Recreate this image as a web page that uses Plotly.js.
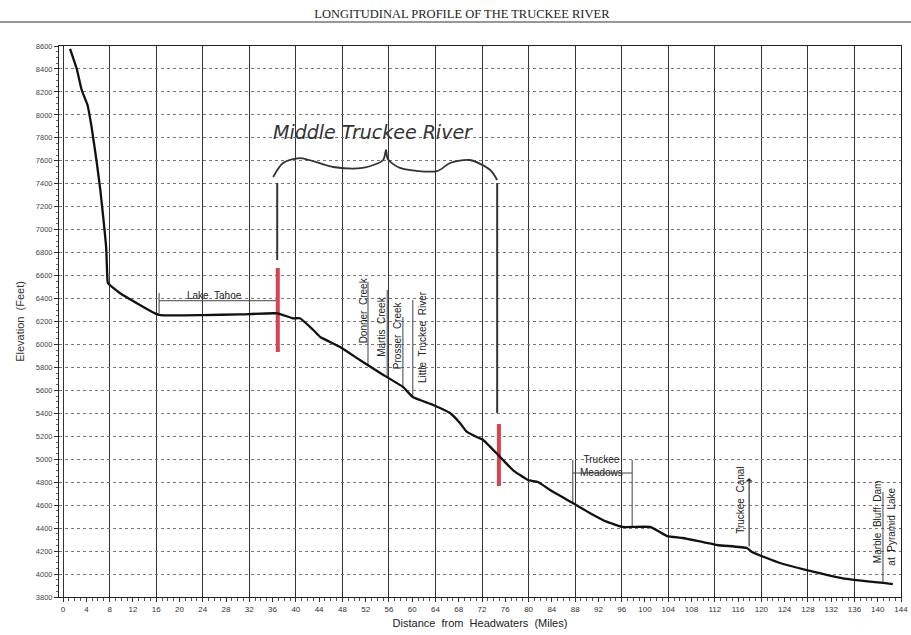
<!DOCTYPE html>
<html>
<head>
<meta charset="utf-8">
<script src="https://cdn.plot.ly/plotly-3.0.1.min.js"></script>
<style>html,body{margin:0;padding:0;background:#fff;}#chart{width:911px;height:635px;}</style>
</head>
<body>
<div id="chart"></div>
<script>
// ---- River profile (distance from headwaters in miles, elevation in feet) ----
const miles = [1.2,2.4,3.2,4.2,4.9,5.8,6.4,6.9,7.4,7.6,7.7,9.8,13.2,15.8,16.7,24,30.4,36.8,39.5,40.7,43.0,44.2,47.6,51.0,54.5,58.4,60.1,63.6,66.5,68.2,69.4,71.1,72.2,75.1,77.3,79.9,81.6,83.7,87.6,90.5,93.5,96.2,100.9,103.8,106.5,112.4,117.5,118.4,123.2,127.8,134.7,142.6];
const elevation = [8574,8391,8217,8086,7894,7581,7346,7110,6849,6588,6535,6446,6344,6271,6256,6256,6262,6271,6228,6228,6126,6065,5978,5865,5751,5630,5542,5473,5403,5316,5238,5194,5168,5020,4906,4819,4802,4732,4619,4532,4454,4410,4410,4331,4314,4253,4227,4192,4096,4035,3957,3913];

// ---- Axis ticks ----
const xTickVals = [0,4,8,12,16,20,24,28,32,36,40,44,48,52,56,60,64,68,72,76,80,84,88,92,96,100,104,108,112,116,120,124,128,132,136,140,144];
const yTickVals = [3800,4000,4200,4400,4600,4800,5000,5200,5400,5600,5800,6000,6200,6400,6600,6800,7000,7200,7400,7600,7800,8000,8200,8400,8600];

// ---- Middle Truckee River reach ----
const braceMiles = [36.1,37.8,40.7,46.4,51.5,55.0,55.5,55.8,57.9,64.3,66.5,69.9,73.4,74.6];
const braceElev  = [7459,7581,7624,7546,7538,7607,7694,7616,7538,7511,7581,7607,7520,7433];
const reachMiles = [36.8,74.6];
const reachTop   = [7406,7406];
const reachBottom= [6736,5403];
const redMiles   = [36.9,74.9];
const redTop     = [6666,5307];
const redBottom  = [5934,4767];

// ---- Tributaries ----
const creekNames = ["Donner\u00a0 Creek","Martis\u00a0 Creek","Prosser\u00a0 Creek","Little\u00a0 Truckee\u00a0 River"];
const creekLineMiles = [52.4,55.7,58.4,60.1];
const creekLineTop = [6544,6474,6239,6387];
const creekLineBottom = [5820,5714,5630,5542];
const creekLabelMiles = [51.6,54.6,57.4,61.7];
const creekLabelElev = [6300,6152,6082,6065];

// ---- Lake Tahoe / Truckee Meadows / others ----
const tahoeMiles = [16.5,36.8]; const tahoeLevel = 6381; const tahoeTickTop = 6448; const tahoeTickBottom = 6271;
const meadowsMiles = [87.6,97.8]; const meadowsLevel = 4880; const meadowsTop = 4993; const meadowsBottom = [4619,4410];
const canalMile = 117.9; const canalElev = [4227,4837];
const marbleMile = 140.9; const marbleElev = [4715,3919];

function segs(xs, y0, y1){
  const X=[],Y=[];
  for(let i=0;i<xs.length;i++){ X.push(xs[i],xs[i],null); Y.push(y0[i],y1[i],null); }
  return {x:X,y:Y};
}

const creekSeg = segs(creekLineMiles, creekLineTop, creekLineBottom);
const reachSeg = segs(reachMiles, reachTop, reachBottom);
const redSeg = segs(redMiles, redTop, redBottom);

const bracketX = [tahoeMiles[0],tahoeMiles[0],null,tahoeMiles[0],tahoeMiles[1],null,tahoeMiles[1],tahoeMiles[1],null,
                  meadowsMiles[0],meadowsMiles[0],null,meadowsMiles[0],meadowsMiles[1],null,meadowsMiles[1],meadowsMiles[1],null,
                  marbleMile,marbleMile,null].concat(creekSeg.x);
const bracketY = [tahoeTickTop,tahoeTickBottom,null,tahoeLevel,tahoeLevel,null,tahoeTickTop,tahoeTickBottom,null,
                  meadowsTop,meadowsBottom[0],null,meadowsLevel,meadowsLevel,null,meadowsTop,meadowsBottom[1],null,
                  marbleElev[0],marbleElev[1],null].concat(creekSeg.y);

const labelFont = {family:"Liberation Sans, Arial, sans-serif", size:10, color:"#222"};

const traces = [
  {x:bracketX, y:bracketY, mode:"lines", line:{color:"#444", width:1}, hoverinfo:"skip", showlegend:false, connectgaps:false},
  {x:braceMiles, y:braceElev, mode:"lines", line:{color:"#333", width:1.8, shape:"spline", smoothing:0.8}, hoverinfo:"skip", showlegend:false},
  {x:reachSeg.x, y:reachSeg.y, mode:"lines", line:{color:"#333", width:2}, hoverinfo:"skip", showlegend:false},
  {x:redSeg.x, y:redSeg.y, mode:"lines", line:{color:"#d9434f", width:4}, hoverinfo:"skip", showlegend:false},
  {x:miles, y:elevation, mode:"lines", line:{color:"#111", width:2.3, shape:"spline", smoothing:0.4}, name:"Truckee River", showlegend:false},
  {x:[0], y:[null], xaxis:"x2", mode:"lines", hoverinfo:"skip", showlegend:false}
];

const annotations = [
  {x:26.1, y:6430, text:"Lake\u00a0 Tahoe", showarrow:false, font:labelFont},
  {x:53.3, y:7851, text:"<i>Middle Truckee River</i>", showarrow:false,
   font:{family:"DejaVu Sans, sans-serif", size:19, color:"#333"}},
  {x:92.6, y:4938, text:"Truckee<br>Meadows", showarrow:false, font:labelFont, align:"center"},
  {x:116.3, y:4645, text:"Truckee\u00a0 Canal", showarrow:false, textangle:-90, font:labelFont},
  {x:139.9, y:4453, text:"Marble\u00a0 Bluff\u00a0 Dam", showarrow:false, textangle:-90, font:labelFont},
  {x:142.4, y:4410, text:"at\u00a0 Pyramid\u00a0 Lake", showarrow:false, textangle:-90, font:labelFont},
  {x:canalMile, y:canalElev[1], ax:canalMile, ay:canalElev[0], axref:"x", ayref:"y", xref:"x", yref:"y",
   text:"", showarrow:true, arrowhead:1, arrowsize:1, arrowwidth:1.2, arrowcolor:"#333"}
];
for(let i=0;i<creekNames.length;i++){
  annotations.push({x:creekLabelMiles[i], y:creekLabelElev[i], text:creekNames[i], showarrow:false, textangle:-90, font:labelFont});
}

const layout = {
  width:911, height:635,
  margin:{l:59, r:10, t:46, b:38},
  paper_bgcolor:"#fff", plot_bgcolor:"#fff",
  title:{text:"LONGITUDINAL PROFILE OF THE TRUCKEE RIVER", x:0.507, xanchor:"center", y:0.979, yanchor:"middle",
         font:{family:"Liberation Serif, Times New Roman, serif", size:12.5, color:"#222"}},
  xaxis:{range:[-0.7,144], dtick:8, tick0:0, showgrid:true, gridcolor:"#333", gridwidth:1,
         showticklabels:false, ticks:"", zeroline:false, showline:true, linecolor:"#222", linewidth:1, mirror:true},
  xaxis2:{range:[-0.7,144], overlaying:"x", side:"bottom", tickvals:xTickVals, ticktext:xTickVals.map(String),
          showgrid:false, zeroline:false, showline:false, ticks:"outside", ticklen:4, tickcolor:"#333",
          minor:{dtick:1, tick0:0, ticks:"outside", ticklen:3, tickcolor:"#555"},
          tickfont:{family:"Liberation Sans, Arial, sans-serif", size:8, color:"#333"},
          title:{text:"Distance\u00a0 from\u00a0 Headwaters\u00a0 (Miles)", standoff:6,
                 font:{family:"Liberation Sans, Arial, sans-serif", size:11, color:"#222"}}},
  yaxis:{range:[3800,8600], tickvals:yTickVals, ticktext:yTickVals.map(String), showgrid:true,
         gridcolor:"#777", gridwidth:1, griddash:"3px,3px", zeroline:false, showline:true, linecolor:"#222", linewidth:1, mirror:true,
         ticks:"outside", ticklen:4, tickcolor:"#333",
         minor:{dtick:50, tick0:3800, ticks:"outside", ticklen:2, tickcolor:"#666"},
         tickfont:{family:"Liberation Sans, Arial, sans-serif", size:7.5, color:"#444"},
         title:{text:"Elevation\u00a0 (Feet)", standoff:8, font:{family:"Liberation Sans, Arial, sans-serif", size:11, color:"#333"}}},
  annotations:annotations,
  shapes:[{type:"line", xref:"paper", yref:"paper", x0:-0.07, x1:1.02, y0:1.0436, y1:1.0436, line:{color:"#333", width:1.2}}],
  showlegend:false
};

Plotly.newPlot("chart", traces, layout, {displayModeBar:false, staticPlot:true});
</script>
</body>
</html>
